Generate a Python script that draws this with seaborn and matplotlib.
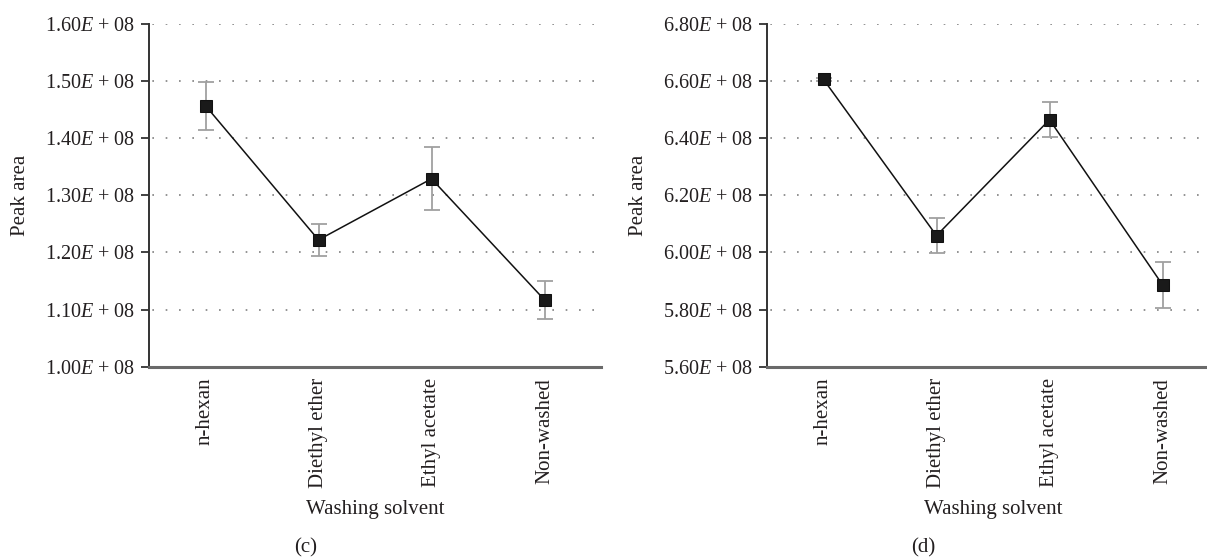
import numpy as np
import pandas as pd
import matplotlib
matplotlib.use("Agg")
import matplotlib.pyplot as plt
import seaborn as sns
from matplotlib.ticker import FuncFormatter, FixedLocator

# Data
solvents = ["n-hexan", "Diethyl ether", "Ethyl acetate", "Non-washed"]

area_c = [1.457e8, 1.222e8, 1.329e8, 1.117e8]
err_c = [0.042e8, 0.028e8, 0.055e8, 0.033e8]

area_d = [6.606e8, 6.059e8, 6.465e8, 5.887e8]
err_d = [0.004e8, 0.060e8, 0.062e8, 0.081e8]

ticks_c = [1.00e8, 1.10e8, 1.20e8, 1.30e8, 1.40e8, 1.50e8, 1.60e8]
ticks_d = [5.60e8, 5.80e8, 6.00e8, 6.20e8, 6.40e8, 6.60e8, 6.80e8]

sns.set_style("white")
plt.rcParams["font.family"] = ["Liberation Serif", "DejaVu Serif"]
plt.rcParams["mathtext.fontset"] = "custom"
plt.rcParams["mathtext.rm"] = "Liberation Serif"
plt.rcParams["mathtext.it"] = "Liberation Serif:italic"

TEXT = "#231f20"

fig = plt.figure(figsize=(12.07, 5.6), dpi=100)
ax_c = fig.add_axes([149 / 1207, 1 - 366.7 / 560, 452 / 1207, 342.7 / 560])
ax_d = fig.add_axes([767 / 1207, 1 - 366.7 / 560, 452 / 1207, 342.7 / 560])


def sci_label(v, pos):
    return f"{v / 1e8:.2f}$E$ + 08"


def draw_panel(ax, values, errors, ticks, tag, tag_x):
    df = pd.DataFrame({"Washing solvent": solvents, "Peak area": values})
    pos = np.arange(len(solvents))
    ax.errorbar(pos, values, yerr=errors, fmt="none", ecolor="#a0a0a0",
                elinewidth=1.3, capsize=6, capthick=1.3, zorder=2)
    sns.lineplot(data=df, x=pos, y="Peak area", sort=False, ax=ax,
                 color="#111111", linewidth=1.1, marker="s", markersize=9,
                 markeredgecolor="#111111", markerfacecolor="#1a1a1a", zorder=3)

    ax.set_xlim(-0.5, 3.5)
    ax.set_ylim(ticks[0], ticks[-1])
    ax.yaxis.set_major_locator(FixedLocator(ticks))
    ax.yaxis.set_major_formatter(FuncFormatter(sci_label))
    ax.set_xticks(pos)
    ax.set_xticklabels(solvents, rotation=90)

    for t in ticks[1:]:
        ax.axhline(t, color="#808080", linewidth=1.2,
                   linestyle=(6, (1, 7)), zorder=1)

    for side in ["top", "right"]:
        ax.spines[side].set_visible(False)
    ax.spines["left"].set_color("#333333")
    ax.spines["left"].set_linewidth(1.4)
    ax.spines["bottom"].set_color("#6a6a6a")
    ax.spines["bottom"].set_linewidth(2.2)

    ax.tick_params(axis="y", which="major", direction="out", length=6,
                   width=1.3, color="#333333", labelsize=14.5,
                   labelcolor=TEXT, pad=4, left=True)
    ax.tick_params(axis="x", which="major", length=0, labelsize=15,
                   labelcolor=TEXT, pad=8)

    ax.set_xlabel("Washing solvent", fontsize=15, color=TEXT)
    ax.set_ylabel("Peak area", fontsize=15, color=TEXT)
    ax.xaxis.set_label_coords(0.5, -0.418)
    ax.xaxis.label.set_va("center")
    ax.yaxis.set_label_coords(-0.285, 0.5)
    ax.yaxis.label.set_va("center")

    fig.text(tag_x / 1207, 1 - 548 / 560, tag, fontsize=15, color=TEXT,
             ha="center", va="center")


draw_panel(ax_c, area_c, err_c, ticks_c, "(c)", 306)
draw_panel(ax_d, area_d, err_d, ticks_d, "(d)", 923)

fig.savefig("out.png", dpi=100)
